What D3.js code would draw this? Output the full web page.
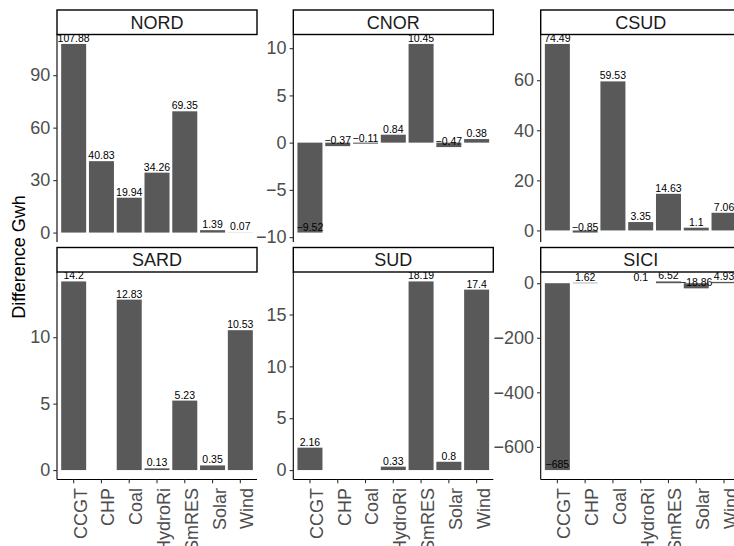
<!DOCTYPE html>
<html>
<head>
<meta charset="utf-8">
<script src="https://cdn.jsdelivr.net/npm/d3@7/dist/d3.min.js"></script>
<style>
  html, body { margin: 0; padding: 0; background: #ffffff; overflow: hidden; }
  svg { display: block; }
  text { font-family: "Liberation Sans", Arial, Helvetica, sans-serif; }
</style>
</head>
<body>
<div id="chart"></div>
<script>
// ---- data ----
const categories = ["CCGT", "CHP", "Coal", "HydroRi", "SmRES", "Solar", "Wind"];
const regions = ["NORD", "CNOR", "CSUD", "SARD", "SUD", "SICI"];
const nordValues = [107.88, 40.83, 19.94, 34.26, 69.35, 1.39, 0.07];
const cnorValues = [-9.52, -0.37, -0.11, 0.84, 10.45, -0.47, 0.38];
const csudValues = [74.49, -0.85, 59.53, 3.35, 14.63, 1.1, 7.06];
const sardValues = [14.2, null, 12.83, 0.13, 5.23, 0.35, 10.53];
const sudValues = [2.16, null, null, 0.33, 18.19, 0.8, 17.4];
const siciValues = [-685, 1.62, null, 0.1, 6.52, -18.86, 4.93];
const nordTicks = [0, 30, 60, 90];
const cnorTicks = [-10, -5, 0, 5, 10];
const csudTicks = [0, 20, 40, 60];
const sardTicks = [0, 5, 10];
const sudTicks = [0, 5, 10, 15];
const siciTicks = [-600, -400, -200, 0];
const yTitle = "Difference Gwh";

const seriesByRegion = [nordValues, cnorValues, csudValues, sardValues, sudValues, siciValues];
const ticksByRegion = [nordTicks, cnorTicks, csudTicks, sardTicks, sudTicks, siciTicks];

// ---- layout ----
const W = 734, H = 546;
const colX = [57, 293.3, 540.7];
const panelW = 200;
const rowStripTop = [10, 247.5];
const stripH = 24.5;
const panelH = 207.5;
const FONT = 18;

const svg = d3.select("#chart").append("svg")
  .attr("width", W).attr("height", H);

const fmt = v => String(v).replace("-", "\u2212");

const x = d3.scaleBand().domain(categories)
  .range([0, panelW]).paddingInner(0.1).paddingOuter(0.15);

regions.forEach((reg, i) => {
  const col = i % 3, row = Math.floor(i / 3);
  const px = colX[col];
  const stripTop = rowStripTop[row];
  const py = stripTop + stripH;
  const vals = seriesByRegion[i];
  const data = categories.map((c, k) => ({ cat: c, v: vals[k] })).filter(d => d.v !== null);
  const lo = Math.min(0, d3.min(data, d => d.v));
  const hi = Math.max(0, d3.max(data, d => d.v));
  const pad = (hi - lo) * 0.05;
  const y = d3.scaleLinear().domain([lo - pad, hi + pad]).range([panelH, 0]);

  const g = svg.append("g").attr("transform", `translate(${px},${py})`);

  // bars
  g.selectAll("rect.bar").data(data).enter().append("rect")
    .attr("class", "bar")
    .attr("x", d => x(d.cat))
    .attr("width", x.bandwidth())
    .attr("y", d => y(Math.max(0, d.v)))
    .attr("height", d => Math.abs(y(0) - y(d.v)))
    .attr("fill", "#595959");

  // value labels
  g.selectAll("text.val").data(data).enter().append("text")
    .attr("class", "val")
    .attr("x", d => x(d.cat) + x.bandwidth() / 2)
    .attr("y", d => y(d.v) - 2)
    .attr("text-anchor", "middle")
    .attr("font-size", 10.5)
    .attr("fill", "#000")
    .text(d => fmt(d.v));

  // y axis
  const yAxis = d3.axisLeft(y).tickValues(ticksByRegion[i]).tickSize(3.7).tickPadding(3)
    .tickFormat(fmt);
  const ya = g.append("g").call(yAxis);
  ya.select(".domain").attr("stroke", "#000").attr("stroke-width", 1.1);
  ya.selectAll(".tick line").attr("stroke", "#333").attr("stroke-width", 1.1);
  ya.selectAll(".tick text").attr("fill", "#4D4D4D").attr("font-size", FONT)
    .attr("font-family", "'Liberation Sans', Arial, sans-serif");
  ya.select(".domain").attr("d", `M0,0V${panelH}`);

  // x axis only on bottom row
  if (row === 1) {
    const xa = g.append("g").attr("transform", `translate(0,${panelH})`)
      .call(d3.axisBottom(x).tickSize(3.7).tickFormat(""));
    xa.select(".domain").attr("stroke", "#000").attr("stroke-width", 1.1)
      .attr("d", `M0,0H${panelW}`);
    xa.selectAll(".tick line").attr("stroke", "#333").attr("stroke-width", 1.1);
    g.selectAll("text.xlab").data(categories).enter().append("text")
      .attr("class", "xlab")
      .attr("transform", d => `translate(${x(d) + x.bandwidth() / 2},${panelH + 8.5}) rotate(-90)`)
      .attr("text-anchor", "end")
      .attr("dy", "0.72em")
      .attr("font-size", FONT)
      .attr("fill", "#4D4D4D")
      .text(d => d);
  }

  // strip
  svg.append("rect")
    .attr("x", px).attr("y", stripTop)
    .attr("width", panelW).attr("height", stripH)
    .attr("fill", "#fff").attr("stroke", "#000").attr("stroke-width", 1.4);
  svg.append("text")
    .attr("x", px + panelW / 2).attr("y", stripTop + stripH / 2)
    .attr("dy", "0.36em")
    .attr("text-anchor", "middle")
    .attr("font-size", FONT)
    .attr("fill", "#1A1A1A")
    .text(reg);
});

// y title
svg.append("text")
  .attr("transform", `translate(24.5,${(34.5 + 479.5) / 2}) rotate(-90)`)
  .attr("text-anchor", "middle")
  .attr("font-size", FONT)
  .attr("fill", "#000")
  .text(yTitle);
</script>
</body>
</html>
